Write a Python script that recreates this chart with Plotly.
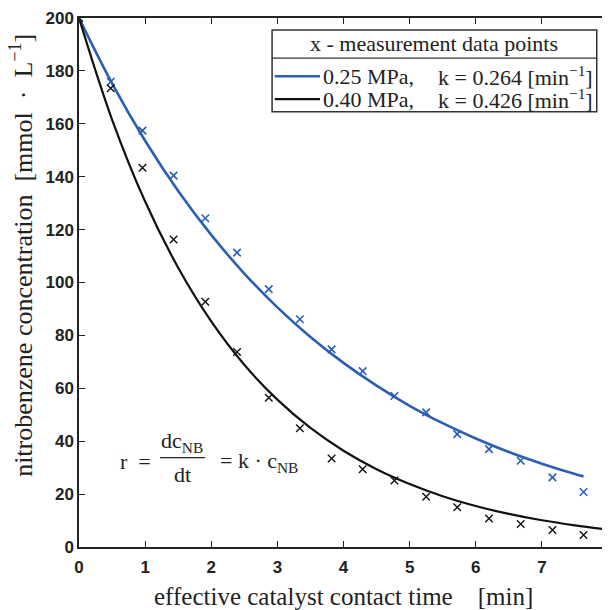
import plotly.graph_objects as go

# measured data points
t_meas = [0, 0.48, 0.96, 1.43, 1.91, 2.39, 2.87, 3.34, 3.82, 4.29, 4.77, 5.25, 5.72, 6.20, 6.68, 7.16, 7.63]
c_blue = [200, 175.9, 157.4, 140.4, 124.3, 111.3, 97.5, 86.1, 74.7, 66.5, 57.1, 50.9, 42.7, 37.0, 32.6, 26.3, 20.8]
c_black = [200, 173.4, 143.4, 116.3, 92.7, 73.7, 56.4, 44.9, 33.5, 29.4, 25.1, 19.0, 15.0, 10.8, 8.7, 6.4, 4.5]

# fitted curves
t_fit_blue = [0, 0.5, 1, 1.5, 2, 2.5, 3, 3.5, 4, 4.5, 5, 5.5, 6, 6.5, 7, 7.5, 7.63]
c_fit_blue = [200, 175.3, 153.6, 134.6, 118.0, 103.4, 90.6, 79.4, 69.6, 61.0, 53.4, 46.8, 41.0, 35.9, 31.5, 27.6, 26.7]
t_fit_black = [0, 0.5, 1, 1.5, 2, 2.5, 3, 3.5, 4, 4.5, 5, 5.5, 6, 6.5, 7, 7.5, 8]
c_fit_black = [200, 161.6, 130.6, 105.6, 85.3, 68.9, 55.7, 45.0, 36.4, 29.4, 23.8, 19.2, 15.5, 12.5, 10.1, 8.2, 6.6]

x_ticks = [0, 1, 2, 3, 4, 5, 6, 7, 8]
y_ticks = [0, 20, 40, 60, 80, 100, 120, 140, 160, 180, 200]

x_title = "effective catalyst contact time\u2003[min]"
y_title = "nitrobenzene concentration\u2002[mmol\u2002·\u2002L<sup>−1</sup>]"
legend_title = "x - measurement data points"
legend_p = ["0.25 MPa,", "0.40 MPa,"]
legend_k = ["k = 0.264 [min<sup>−1</sup>]", "k = 0.426 [min<sup>−1</sup>]"]

BLUE = "#2b5fb3"
BLACK = "#111111"
TXT = "#222222"
SERIF = "Liberation Serif"

fig = go.Figure()
fig.add_trace(go.Scatter(x=t_fit_blue, y=c_fit_blue, mode="lines", line=dict(color=BLUE, width=2.6, shape="spline"), showlegend=False))
fig.add_trace(go.Scatter(x=t_fit_black, y=c_fit_black, mode="lines", line=dict(color=BLACK, width=2.2, shape="spline"), showlegend=False))
fig.add_trace(go.Scatter(x=t_meas, y=c_blue, mode="markers",
                         marker=dict(symbol="x-thin", size=7.5, line=dict(color=BLUE, width=1.6)), showlegend=False))
fig.add_trace(go.Scatter(x=t_meas, y=c_black, mode="markers",
                         marker=dict(symbol="x-thin", size=7.5, line=dict(color=BLACK, width=1.4)), showlegend=False))

# Legend box drawn manually (data coords)
lx0, lx1 = 2.92, 7.83
ly0, ly1 = 164.6, 195.5
fig.add_shape(type="rect", x0=lx0, x1=lx1, y0=ly0, y1=ly1, line=dict(color="#333", width=1.5), fillcolor="white", layer="above")
fig.add_shape(type="line", x0=lx0, x1=lx1, y0=184.8, y1=184.8, line=dict(color="#333", width=1.2), layer="above")
fig.add_annotation(x=(lx0 + lx1) / 2, y=190.2, text=legend_title, showarrow=False, xanchor="center", yanchor="middle",
                   font=dict(family=SERIF, size=22, color=TXT))
row_y = [178.0, 169.3]
for i, (col, w) in enumerate([(BLUE, 2.6), (BLACK, 2.2)]):
    fig.add_shape(type="line", x0=2.96, x1=3.645, y0=row_y[i], y1=row_y[i], line=dict(color=col, width=w), layer="above")
    fig.add_annotation(x=3.66, y=row_y[i], text=legend_p[i], showarrow=False, xanchor="left", yanchor="middle",
                       font=dict(family=SERIF, size=22, color=TXT))
    fig.add_annotation(x=5.40, y=row_y[i], text=legend_k[i], showarrow=False, xanchor="left", yanchor="middle",
                       font=dict(family=SERIF, size=22, color=TXT))

# Equation annotation
eq_font = dict(family=SERIF, size=22, color=TXT)
fig.add_annotation(x=0.59, y=32.3, text="r\u2002=", showarrow=False, xanchor="left", yanchor="middle", font=eq_font)
fig.add_annotation(x=1.565, y=39.8, text="dc<sub>NB</sub>", showarrow=False, xanchor="center", yanchor="middle", font=eq_font)
fig.add_shape(type="line", x0=1.225, x1=1.905, y0=33.8, y1=33.8, line=dict(color=TXT, width=1.2))
fig.add_annotation(x=1.565, y=27.6, text="dt", showarrow=False, xanchor="center", yanchor="middle", font=eq_font)
fig.add_annotation(x=2.10, y=32.3, text="= k · c<sub>NB</sub>", showarrow=False, xanchor="left", yanchor="middle", font=eq_font)

# axis titles
fig.add_annotation(xref="paper", yref="paper", x=0.5, y=-0.0945, text=x_title, showarrow=False,
                   xanchor="center", yanchor="middle", font=dict(family=SERIF, size=25, color=TXT))
fig.add_annotation(xref="paper", yref="paper", x=-0.108, y=0.552, text=y_title, showarrow=False, textangle=-90,
                   xanchor="center", yanchor="middle", font=dict(family=SERIF, size=26, color=TXT))

tick_font = dict(family="Liberation Sans", size=17, color=TXT, weight="bold")
fig.update_xaxes(range=[0, 8], tickvals=x_ticks, ticks="inside", ticklen=6, tickwidth=1.3, tickcolor=TXT,
                 showline=True, linecolor=TXT, linewidth=1.5, mirror="ticks", showgrid=False, zeroline=False,
                 tickfont=tick_font, automargin=False, ticklabeloverflow="allow", ticklabelstandoff=4)
fig.update_yaxes(range=[0, 200], tickvals=y_ticks, ticks="inside", ticklen=6, tickwidth=1.3, tickcolor=TXT,
                 showline=True, linecolor=TXT, linewidth=1.5, mirror="ticks", showgrid=False, zeroline=False,
                 tickfont=tick_font, automargin=False, ticklabeloverflow="allow")
# the page body adds an 8 px offset, so margins are shifted to place the plot area as in the reference
fig.update_layout(width=610, height=610, margin=dict(l=71, r=10, t=10, b=71, autoexpand=False),
                  plot_bgcolor="white", paper_bgcolor="white", showlegend=False)
fig.write_html("out.html")
